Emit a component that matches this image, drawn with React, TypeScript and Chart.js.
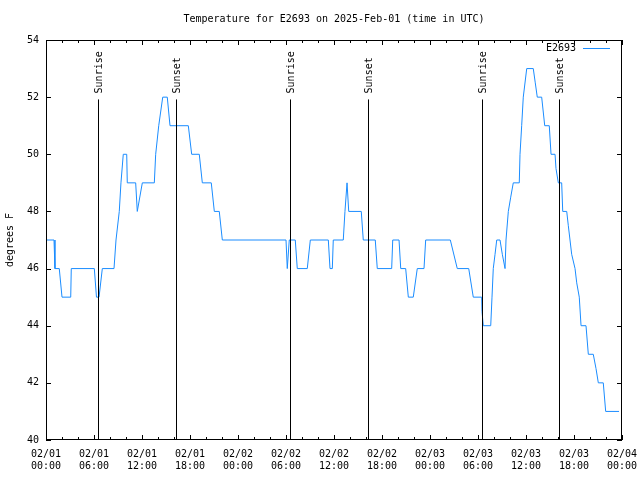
import React, { useEffect, useRef } from "react";
import { Chart, registerables } from "chart.js";

Chart.register(...registerables);

// Hours since 2025-02-01 00:00 UTC
const hours = [
  0, 1.0, 1.12, 1.66, 2.0, 3.09, 3.16, 6.04, 6.31, 6.63, 7.04,
  8.5, 8.75, 9.16, 9.37, 9.66, 10.09, 10.16, 11.21, 11.41, 12.04,
  13.54, 13.71, 14.09, 14.59, 15.16, 15.5, 17.79, 18.21, 19.16, 19.54,
  20.66, 21.04, 21.66, 22.04, 30.0, 30.16, 30.41, 31.16, 31.41,
  32.66, 33.04, 35.29, 35.5, 35.79, 35.91, 37.16, 37.37, 37.63, 37.84,
  39.41, 39.66, 41.16, 41.41, 43.21, 43.34, 44.13, 44.34, 44.96, 45.29,
  45.91, 46.41, 47.25, 47.46, 50.54, 51.41, 52.84, 53.41,
  54.46, 54.5, 54.66, 55.59, 55.75, 55.91, 56.13, 56.34,
  56.75, 57.04, 57.38, 57.5, 57.79, 58.09, 58.41,
  59.16, 59.25, 59.46, 59.66, 60.09, 60.91, 61.16, 61.41,
  61.96, 62.34, 62.91, 63.13, 63.63, 63.75, 64.04, 64.46, 64.59,
  65.09, 65.29, 65.5, 65.71, 66.13, 66.34, 66.66, 66.88,
  67.5, 67.79, 68.41, 68.75, 69.04, 69.66, 69.96, 71.63,
];
const tempF = [
  47, 47, 46, 46, 45, 45, 46, 46, 45, 45, 46,
  46, 47, 48, 49, 50, 50, 49, 49, 48, 49,
  49, 50, 51, 52, 52, 51, 51, 50, 50, 49,
  49, 48, 48, 47, 47, 46, 47, 47, 46,
  46, 47, 47, 46, 46, 47, 47, 48, 49, 48,
  48, 47, 47, 46, 46, 47, 47, 46, 46, 45,
  45, 46, 46, 47, 47, 46, 46, 45,
  45, 44.5, 44, 44, 45, 46, 46.5, 47,
  47, 46.5, 46, 47, 48, 48.5, 49,
  49, 50, 51, 52, 53, 53, 52.5, 52,
  52, 51, 51, 50, 50, 49.5, 49, 49, 48,
  48, 47.5, 47, 46.5, 46, 45.5, 45, 44,
  44, 43, 43, 42.5, 42, 42, 41, 41,
];

const sunEventHours = [6.54, 16.29, 30.54, 40.29, 54.44, 64.16];
const sunEventLabels = ["Sunrise", "Sunset", "Sunrise", "Sunset", "Sunrise", "Sunset"];

const tickDates = ["02/01", "02/01", "02/01", "02/01", "02/02", "02/02", "02/02", "02/02", "02/03", "02/03", "02/03", "02/03", "02/04"];
const tickTimes = ["00:00", "06:00", "12:00", "18:00", "00:00", "06:00", "12:00", "18:00", "00:00", "06:00", "12:00", "18:00", "00:00"];

const seriesName = "E2693";
const titleText = "Temperature for E2693 on 2025-Feb-01 (time in UTC)";
const yTitle = "degrees F";

const FONT = "'DejaVu Sans Mono', 'Liberation Mono', monospace";
const LINE_COLOR = "#1a8cff";

const overlayPlugin = {
  id: "gnuplotOverlay",
  afterDatasetsDraw(chart: any) {
    const { ctx, chartArea, scales } = chart;
    const xs = scales.x;
    const ys = scales.y;
    const { left, right, top, bottom } = chartArea;
    ctx.save();
    ctx.strokeStyle = "#000";
    ctx.lineWidth = 1;
    ctx.font = `10px ${FONT}`;
    ctx.fillStyle = "#000";

    // title, centred over the plot area
    ctx.textAlign = "center";
    ctx.textBaseline = "middle";
    ctx.fillText(titleText, (left + right) / 2, 19);

    // sunrise / sunset lines
    const lineTopY = ys.getPixelForValue(51.92);
    sunEventHours.forEach((h, i) => {
      const px = Math.round(xs.getPixelForValue(h)) + 0.5;
      ctx.beginPath();
      ctx.moveTo(px, lineTopY);
      ctx.lineTo(px, bottom);
      ctx.stroke();
      ctx.save();
      ctx.translate(px + 1, lineTopY - 6);
      ctx.rotate(-Math.PI / 2);
      ctx.textAlign = "left";
      ctx.textBaseline = "middle";
      ctx.fillText(sunEventLabels[i], 0, 0);
      ctx.restore();
    });

    // border
    ctx.strokeRect(left + 0.5, top + 0.5, right - left - 1, bottom - top - 1);

    // y ticks (inward, mirrored)
    for (let v = ys.min; v <= ys.max; v += 2) {
      const py = Math.round(ys.getPixelForValue(v)) + 0.5;
      ctx.beginPath();
      ctx.moveTo(left, py);
      ctx.lineTo(left + 5, py);
      ctx.moveTo(right, py);
      ctx.lineTo(right - 5, py);
      ctx.stroke();
    }
    // x ticks: major every 6h, minor every 2h
    for (let h = xs.min; h <= xs.max; h += 2) {
      const px = Math.round(xs.getPixelForValue(h)) + 0.5;
      const len = h % 6 === 0 ? 5 : 3;
      ctx.beginPath();
      ctx.moveTo(px, bottom);
      ctx.lineTo(px, bottom - len);
      ctx.moveTo(px, top);
      ctx.lineTo(px, top + len);
      ctx.stroke();
    }

    // legend
    const ly = top + 8.5;
    ctx.textAlign = "right";
    ctx.textBaseline = "middle";
    ctx.fillText(seriesName, right - 46, ly);
    ctx.strokeStyle = LINE_COLOR;
    ctx.beginPath();
    ctx.moveTo(right - 39, ly);
    ctx.lineTo(right - 12, ly);
    ctx.stroke();
    ctx.restore();
  },
};

export default function App() {
  const canvasRef = useRef<HTMLCanvasElement | null>(null);

  useEffect(() => {
    document.body.style.margin = "0";
    const canvas = canvasRef.current;
    if (!canvas) return;
    const chart = new Chart(canvas, {
      type: "line",
      data: {
        datasets: [
          {
            label: seriesName,
            data: hours.map((h, i) => ({ x: h, y: tempF[i] })),
            borderColor: LINE_COLOR,
            backgroundColor: LINE_COLOR,
            borderWidth: 1,
            pointRadius: 0,
            tension: 0,
          },
        ],
      },
      options: {
        responsive: false,
        animation: false,
        devicePixelRatio: 1,
        layout: { padding: { left: 0, right: 18, top: 40, bottom: 0 } },
        plugins: {
          legend: { display: false },
          tooltip: { enabled: false },
          title: { display: false },
        },
        scales: {
          x: {
            type: "linear",
            min: 0,
            max: 72,
            grid: { display: false, drawTicks: false },
            border: { display: false },
            afterFit: (s: any) => {
              s.height = 40;
              s.paddingLeft = 0;
              s.paddingRight = 0;
            },
            ticks: {
              stepSize: 6,
              autoSkip: false,
              maxRotation: 0,
              padding: 8,
              color: "#000",
              font: { family: FONT, size: 10 },
              callback: (_v: any, i: number) => [tickDates[i], tickTimes[i]],
            },
          },
          y: {
            min: 40,
            max: 54,
            grid: { display: false, drawTicks: false },
            border: { display: false },
            afterFit: (s: any) => {
              s.width = 46;
            },
            title: {
              display: true,
              text: yTitle,
              color: "#000",
              font: { family: FONT, size: 10 },
              padding: { top: 4, bottom: 0 },
            },
            ticks: {
              stepSize: 2,
              padding: 7,
              color: "#000",
              font: { family: FONT, size: 10 },
            },
          },
        },
      },
      plugins: [overlayPlugin],
    });
    return () => chart.destroy();
  }, []);

  return (
    <div style={{ position: "fixed", left: 0, top: 0, width: 640, height: 480, background: "#fff" }}>
      <canvas ref={canvasRef} width={640} height={480} style={{ width: 640, height: 480 }} />
    </div>
  );
}
